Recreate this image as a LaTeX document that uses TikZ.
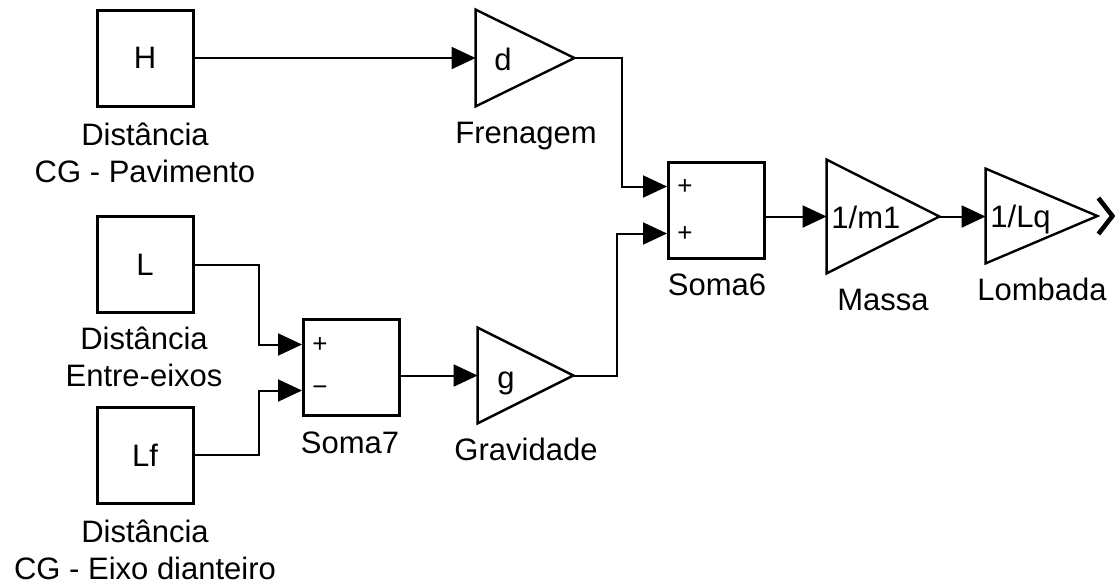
\documentclass[tikz,border=0pt]{standalone}
\usepackage{fontspec}
\setmainfont{Liberation Sans}
\usepackage{tikz}
\usetikzlibrary{arrows.meta}
\usetikzlibrary{calc}

\begin{document}
\begin{tikzpicture}[x=0.5pt,y=-0.5pt,
  font=\fontsize{15.5}{18.5}\selectfont,
  blk/.style={draw,line width=1.5pt,minimum width=48pt,minimum height=48pt,inner sep=0pt},
  gain/.style={inner sep=0pt},
  tri/.style={line width=1.2pt,line join=miter},
  sig/.style={line width=1pt,-{Triangle[length=12pt,width=11pt]}},
  lbl/.style={align=center,inner sep=0pt,anchor=north},
  sgn/.style={font=\fontsize{13}{15}\selectfont,inner sep=0pt}]
\useasboundingbox (0,0) rectangle (1115,586);
\node[blk] (H) at (145,58) {H};
\node[blk] (L) at (145,264.5) {L};
\node[blk] (Lf) at (145,455) {Lf};
\node[blk] (Soma7) at (351.5,367.5) {};
\node[blk] (Soma6) at (716.5,210) {};
\node[gain,minimum width=49pt,minimum height=48pt] (Frenagem) at (525,58) {};
\node[gain,minimum width=47.5pt,minimum height=47.5pt] (Gravidade) at (525.5,375.5) {};
\node[gain,minimum width=56pt,minimum height=56.5pt] (Massa) at (883,216.5) {};
\node[gain,minimum width=55.5pt,minimum height=47pt] (Lombada) at (1041.5,216) {};
\foreach \g in {Frenagem,Gravidade,Massa,Lombada}
  \draw[tri] (\g.north west) -- (\g.east) -- (\g.south west) -- cycle;
\node[anchor=base] at (503,70) {d};
\node[anchor=base] at (506,388) {g};
\node[anchor=base west,inner sep=0pt] at (831,228) {1/m1};
\node[anchor=base west,inner sep=0pt] at (990,227) {1/Lq};
\coordinate (s7a) at ($(Soma7.west)+(0,-23)$);
\coordinate (s7b) at ($(Soma7.west)+(0,23)$);
\coordinate (s6a) at ($(Soma6.west)+(0,-23.5)$);
\coordinate (s6b) at ($(Soma6.west)+(0,23.5)$);
\node[sgn] at ($(s7a)+(18,0)$) {+};
\node[sgn] at ($(s7b)+(18,0)$) {−};
\node[sgn] at ($(s6a)+(18,0)$) {+};
\node[sgn] at ($(s6b)+(18,0)$) {+};
\draw[sig] (H.east) -- (Frenagem.west);
\draw[sig] (Frenagem.east) -- ++(48,0) |- (s6a);
\draw[sig] (Gravidade.east) -- ++(44,0) |- (s6b);
\draw[sig] (L.east) -- ++(64,0) |- (s7a);
\draw[sig] (Lf.east) -- ++(64,0) |- (s7b);
\draw[sig] (Soma7.east |- Gravidade.west) -- (Gravidade.west);
\draw[sig] (Soma6.east |- Massa.west) -- (Massa.west);
\draw[sig] (Massa.east) -- (Massa.east -| Lombada.west);
\draw[line width=2.3pt] ($(Lombada.east)+(1,-18)$) -- ++(14,18) -- ++(-14,18);
\node[lbl] at (145,123) {Distância\\CG - Pavimento};
\node[lbl] at (144,327) {Distância\\Entre-eixos};
\node[lbl] at (145,520) {Distância\\CG - Eixo dianteiro};
\node[anchor=base] at (526,143) {Frenagem};
\node[anchor=base] at (350,453) {Soma7};
\node[anchor=base] at (526,460) {Gravidade};
\node[anchor=base] at (717,295) {Soma6};
\node[anchor=base] at (883,310) {Massa};
\node[anchor=base] at (1042,300) {Lombada};
\end{tikzpicture}
\end{document}
